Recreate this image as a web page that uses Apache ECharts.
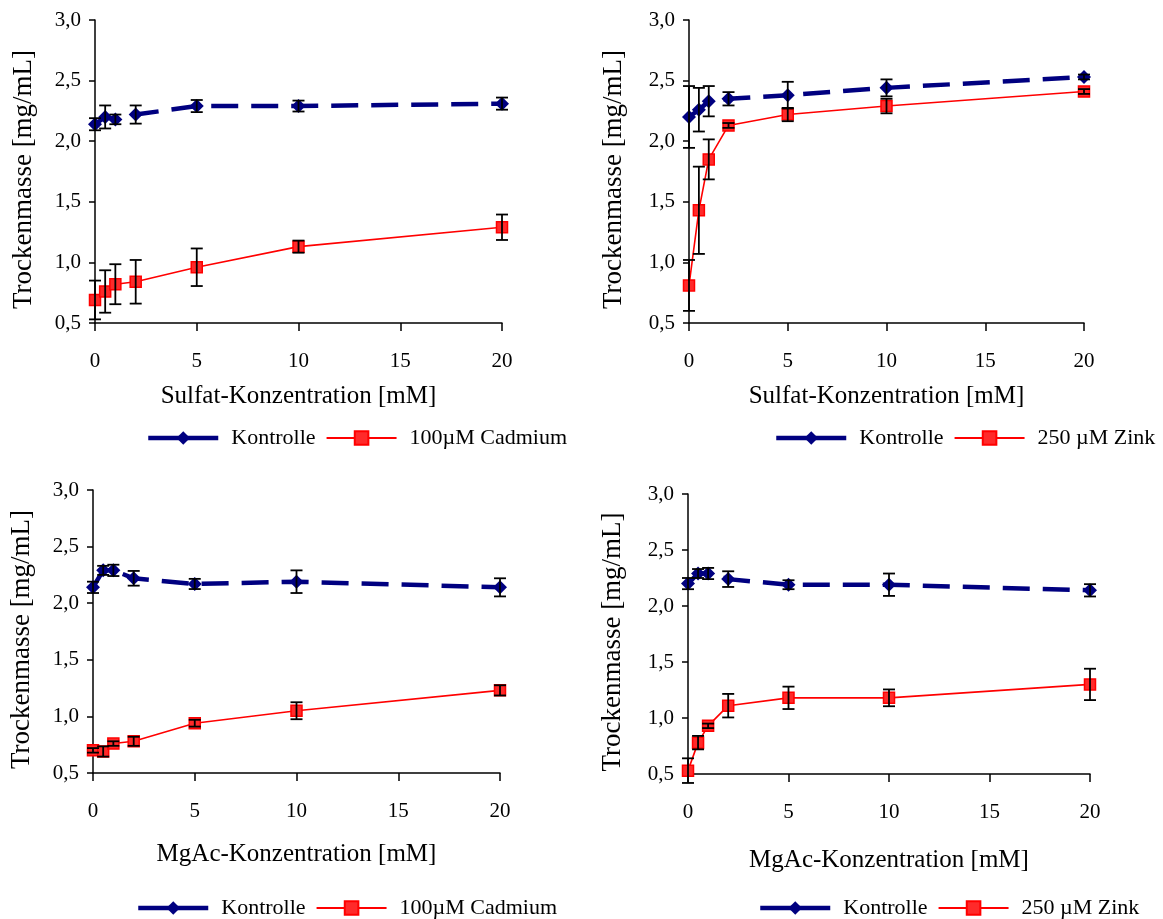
<!DOCTYPE html>
<html><head><meta charset="utf-8">
<script src="https://cdn.jsdelivr.net/npm/echarts@6/dist/echarts.min.js"></script>
<style>html,body{margin:0;padding:0;background:#fff}#c{width:1163px;height:919px}</style>
</head><body><div id="c"></div>
<script>
const xVals = [0, 0.5, 1, 2, 5, 10, 20];
const xTickLabels = ['0', '5', '10', '15', '20'];
const yTickLabels = ['0,5', '1,0', '1,5', '2,0', '2,5', '3,0'];

const p1Kontrolle = [2.14, 2.20, 2.18, 2.22, 2.29, 2.29, 2.31];
const p1KontrolleErr = [0.05, 0.095, 0.04, 0.075, 0.05, 0.045, 0.05];
const p1Cadmium = [0.69, 0.76, 0.82, 0.84, 0.96, 1.13, 1.29];
const p1CadmiumErr = [0.16, 0.175, 0.165, 0.18, 0.155, 0.05, 0.105];

const p2Kontrolle = [2.20, 2.26, 2.33, 2.35, 2.38, 2.44, 2.53];
const p2KontrolleErr = [0.255, 0.18, 0.125, 0.055, 0.11, 0.07, 0.02];
const p2Zink = [0.81, 1.43, 1.85, 2.13, 2.22, 2.29, 2.41];
const p2ZinkErr = [0.21, 0.36, 0.165, 0.02, 0.055, 0.06, 0.02];

const p3Kontrolle = [2.14, 2.29, 2.29, 2.22, 2.17, 2.19, 2.14];
const p3KontrolleErr = [0.05, 0.04, 0.05, 0.065, 0.045, 0.1, 0.08];
const p3Cadmium = [0.70, 0.69, 0.76, 0.78, 0.94, 1.05, 1.23];
const p3CadmiumErr = [0.02, 0.045, 0.02, 0.04, 0.03, 0.075, 0.045];

const p4Kontrolle = [2.20, 2.29, 2.29, 2.24, 2.19, 2.19, 2.14];
const p4KontrolleErr = [0.05, 0.04, 0.05, 0.07, 0.04, 0.1, 0.055];
const p4Zink = [0.53, 0.78, 0.93, 1.11, 1.18, 1.18, 1.30];
const p4ZinkErr = [0.11, 0.06, 0.02, 0.105, 0.1, 0.075, 0.14];

const xTitles = ['Sulfat-Konzentration [mM]', 'Sulfat-Konzentration [mM]', 'MgAc-Konzentration [mM]', 'MgAc-Konzentration [mM]'];
const yTitle = 'Trockenmasse [mg/mL]';
const nameK = 'Kontrolle';
const nameCd = '100µM Cadmium';
const nameZn = '250 µM Zink';

const FONT = 'Liberation Serif, Times New Roman, serif';
const NAVY = '#000080';
const RED = '#ff0000';

const grids = [
  {left: 95, top: 20, width: 407, height: 303},
  {left: 689, top: 20, width: 395, height: 303},
  {left: 93, top: 490, width: 407, height: 283},
  {left: 688, top: 494, width: 402, height: 280}
];
const yNameGaps = [58, 62, 58, 62];
const xNameGaps = [61, 61, 69, 74];

const panels = [
  {k: p1Kontrolle, ke: p1KontrolleErr, t: p1Cadmium, te: p1CadmiumErr, tn: nameCd},
  {k: p2Kontrolle, ke: p2KontrolleErr, t: p2Zink, te: p2ZinkErr, tn: nameZn},
  {k: p3Kontrolle, ke: p3KontrolleErr, t: p3Cadmium, te: p3CadmiumErr, tn: nameCd},
  {k: p4Kontrolle, ke: p4KontrolleErr, t: p4Zink, te: p4ZinkErr, tn: nameZn}
];

function pairs(ys) { return xVals.map((x, i) => [x, ys[i]]); }
function errData(ys, es) { return xVals.map((x, i) => [x, ys[i], es[i]]); }

function errRender(params, api) {
  const x = api.value(0), y = api.value(1), e = api.value(2);
  const top = api.coord([x, y + e]);
  const bot = api.coord([x, y - e]);
  const w = 6;
  const style = {stroke: '#000', lineWidth: 1.8};
  return {type: 'group', children: [
    {type: 'line', shape: {x1: top[0], y1: top[1], x2: bot[0], y2: bot[1]}, style},
    {type: 'line', shape: {x1: top[0] - w, y1: top[1], x2: top[0] + w, y2: top[1]}, style},
    {type: 'line', shape: {x1: bot[0] - w, y1: bot[1], x2: bot[0] + w, y2: bot[1]}, style}
  ]};
}

const xAxes = [], yAxes = [], series = [];
grids.forEach((g, i) => {
  xAxes.push({
    type: 'value', gridIndex: i, min: 0, max: 20, interval: 5,
    name: xTitles[i], nameLocation: 'middle', nameGap: xNameGaps[i],
    nameTextStyle: {fontFamily: FONT, fontSize: 25, color: '#000'},
    axisLine: {onZero: false, lineStyle: {color: '#000', width: 1.5}},
    axisTick: {show: true, inside: false, length: 8, lineStyle: {color: '#000', width: 1.5}},
    axisLabel: {fontFamily: FONT, fontSize: 21, color: '#000', margin: 28,
      formatter: v => xTickLabels[Math.round(v / 5)]},
    splitLine: {show: false}
  });
  yAxes.push({
    type: 'value', gridIndex: i, min: 0.5, max: 3.0, interval: 0.5,
    name: yTitle, nameLocation: 'middle', nameGap: yNameGaps[i], nameRotate: 90,
    nameTextStyle: {fontFamily: FONT, fontSize: 27, color: '#000', padding: [0, 16, 0, 0]},
    axisLine: {show: true, lineStyle: {color: '#000', width: 1.5}},
    axisTick: {show: true, inside: false, length: 6, lineStyle: {color: '#000', width: 1.5}},
    axisLabel: {fontFamily: FONT, fontSize: 21, color: '#000', margin: 14,
      formatter: v => yTickLabels[Math.round((v - 0.5) / 0.5)]},
    splitLine: {show: false}
  });
  const p = panels[i];
  series.push({
    name: nameK, type: 'line', xAxisIndex: i, yAxisIndex: i, data: pairs(p.k),
    symbol: 'diamond', symbolSize: 14, z: 3,
    lineStyle: {color: NAVY, width: 4.5, type: [27, 13]},
    itemStyle: {color: NAVY}
  });
  series.push({
    name: p.tn, type: 'line', xAxisIndex: i, yAxisIndex: i, data: pairs(p.t),
    symbol: 'rect', symbolSize: 11, z: 3,
    lineStyle: {color: RED, width: 1.6},
    itemStyle: {color: '#ff2a2a', borderColor: RED, borderWidth: 1.5}
  });
  series.push({
    name: 'errK' + i, type: 'custom', xAxisIndex: i, yAxisIndex: i,
    data: errData(p.k, p.ke), renderItem: errRender, z: 4, silent: true
  });
  series.push({
    name: 'errT' + i, type: 'custom', xAxisIndex: i, yAxisIndex: i,
    data: errData(p.t, p.te), renderItem: errRender, z: 4, silent: true
  });
});

const legendPos = [
  {left: 146, top: 427}, {left: 774, top: 427},
  {left: 136, top: 897}, {left: 758, top: 897}
];
const legends = legendPos.map((pos, i) => ({
  left: pos.left, top: pos.top, orient: 'horizontal', padding: 0,
  itemWidth: 70, itemHeight: 17, itemGap: 10,
  data: [
    {name: nameK, lineStyle: {type: 'solid', width: 4.5}},
    {name: panels[i].tn}
  ],
  lineStyle: {type: 'solid'},
  textStyle: {fontFamily: FONT, fontSize: 22, color: '#000', padding: [0, 0, 0, 8]},
  selectedMode: false
}));

const chart = echarts.init(document.getElementById('c'), null, {renderer: 'canvas'});
chart.setOption({
  animation: false,
  backgroundColor: '#fff',
  grid: grids,
  xAxis: xAxes,
  yAxis: yAxes,
  legend: legends,
  series: series
});
</script>
</body></html>
